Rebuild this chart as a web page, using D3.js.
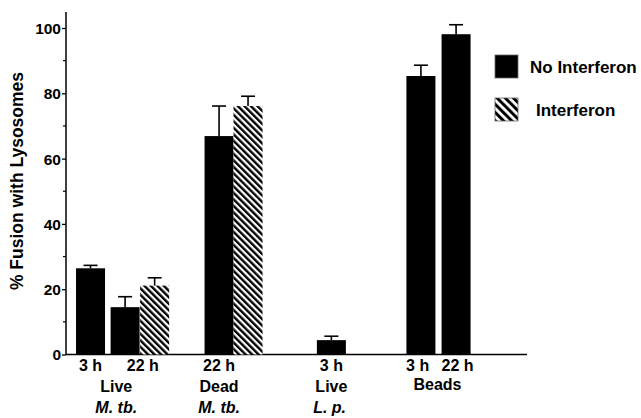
<!DOCTYPE html>
<html>
<head>
<meta charset="utf-8">
<script src="https://cdn.jsdelivr.net/npm/d3@7.9.0/dist/d3.min.js"></script>
<style>
  body { margin: 0; background: #fff; }
  text { font-family: "Liberation Sans", Arial, sans-serif; font-weight: bold; fill: #000; }
</style>
</head>
<body>
<svg id="chart" width="641" height="418"></svg>
<script>
// ---------- DATA ----------
const bars = ["live3", "live22", "live22", "dead22", "dead22", "lp3", "beads3", "beads22"];
const series = ["none", "none", "ifn", "none", "ifn", "none", "none", "none"];
const values = [26.4, 14.5, 21.1, 66.9, 76.1, 4.4, 85.3, 98.1];
const errors = [0.9, 3.2, 2.4, 9.2, 3.0, 1.2, 3.3, 2.9];

const timeLabels = ["3 h", "22 h", "22 h", "3 h", "3 h", "22 h"];
const groupLabels = ["Live", "Dead", "Live", "Beads"];
const organismLabels = ["M. tb.", "M. tb.", "L. p."];
const legendLabels = ["No Interferon", "Interferon"];
const yTicks = [0, 20, 40, 60, 80, 100];

// ---------- LAYOUT (slot units along x) ----------
const barSlot = [0.83, 2.0, 3.0, 5.18, 6.16, 8.98, 12.01, 13.2];
const timeSlot = [0.83, 2.6, 5.18, 8.98, 11.9, 13.25];
const groupSlot = [1.7, 5.18, 8.98, 12.57];
const orgSlot = [1.7, 5.18, 8.92];

const svg = d3.select("#chart");

const x = d3.scaleLinear().domain([0, 15.6]).range([66, 527]);
const y = d3.scaleLinear().domain([0, 100]).range([354.5, 28]);
const barW = 29;

// hatch patterns (bars finer, legend swatch coarser)
const defs = svg.append("defs");
function hatch(id, w) {
  const p = defs.append("pattern")
    .attr("id", id)
    .attr("patternUnits", "userSpaceOnUse")
    .attr("width", w)
    .attr("height", 10)
    .attr("patternTransform", "rotate(-45)");
  p.append("rect").attr("width", w).attr("height", 10).attr("fill", "#fff");
  p.append("rect").attr("width", w * 0.52).attr("height", 10).attr("fill", "#000");
}
hatch("hatch", 4.6);
hatch("hatchLeg", 5.8);

const fill = s => s === "ifn" ? "url(#hatch)" : "#000";

// ---------- AXES ----------
const yAxis = svg.append("g")
  .attr("transform", `translate(${x(0)},0)`)
  .call(d3.axisLeft(y).tickValues(yTicks).tickSize(4).tickPadding(1));
yAxis.select(".domain").remove();
yAxis.selectAll("text")
  .attr("font-size", 15.5)
  .attr("font-family", "Liberation Sans, Arial, sans-serif")
  .attr("font-weight", "bold")
  .attr("dy", "0.35em");
yAxis.selectAll("line").attr("stroke-width", 1.3);

svg.append("g")
  .attr("transform", `translate(${x(0)},0)`)
  .selectAll("line")
  .data(d3.range(10, 100, 20))
  .join("line")
  .attr("x1", -3).attr("x2", 0)
  .attr("y1", d => y(d)).attr("y2", d => y(d))
  .attr("stroke", "#000").attr("stroke-width", 1.2);

svg.append("line")
  .attr("x1", x(0)).attr("x2", x(0))
  .attr("y1", y(0)).attr("y2", 12)
  .attr("stroke", "#000").attr("stroke-width", 1.5);

svg.append("line")
  .attr("x1", x(0)).attr("x2", x(15.6))
  .attr("y1", y(0)).attr("y2", y(0))
  .attr("stroke", "#000").attr("stroke-width", 1.5);

svg.append("text")
  .attr("transform", "translate(23,181) rotate(-90)")
  .attr("text-anchor", "middle")
  .attr("font-size", 17.5)
  .text("% Fusion with Lysosomes");

// ---------- BARS ----------
const idx = d3.range(values.length);

svg.append("g").selectAll("rect")
  .data(idx)
  .join("rect")
  .attr("x", i => x(barSlot[i]) - barW / 2)
  .attr("y", i => y(values[i]))
  .attr("width", barW)
  .attr("height", i => y(0) - y(values[i]))
  .attr("fill", i => fill(series[i]));

// error bars (upper only)
const err = svg.append("g").attr("stroke", "#000").attr("stroke-width", 1.6);
err.selectAll(".stem")
  .data(idx)
  .join("line")
  .attr("class", "stem")
  .attr("x1", i => x(barSlot[i])).attr("x2", i => x(barSlot[i]))
  .attr("y1", i => y(values[i])).attr("y2", i => y(values[i] + errors[i]));
err.selectAll(".cap")
  .data(idx)
  .join("line")
  .attr("class", "cap")
  .attr("x1", i => x(barSlot[i]) - 7).attr("x2", i => x(barSlot[i]) + 7)
  .attr("y1", i => y(values[i] + errors[i])).attr("y2", i => y(values[i] + errors[i]));

// ---------- X LABELS ----------
svg.append("g").selectAll("text")
  .data(timeLabels)
  .join("text")
  .attr("x", (d, i) => x(timeSlot[i]))
  .attr("y", 371)
  .attr("text-anchor", "middle")
  .attr("font-size", 16)
  .text(d => d);

svg.append("g").selectAll("text")
  .data(groupLabels)
  .join("text")
  .attr("x", (d, i) => x(groupSlot[i]))
  .attr("y", (d, i) => i === 3 ? 389.5 : 392)
  .attr("text-anchor", "middle")
  .attr("font-size", 16)
  .text(d => d);

svg.append("g").selectAll("text")
  .data(organismLabels)
  .join("text")
  .attr("x", (d, i) => x(orgSlot[i]))
  .attr("y", 413)
  .attr("text-anchor", "middle")
  .attr("font-size", 16)
  .attr("font-style", "italic")
  .text(d => d);

// ---------- LEGEND ----------
const leg = svg.append("g").selectAll("g")
  .data(legendLabels)
  .join("g")
  .attr("transform", (d, i) => `translate(495,${55 + i * 43})`);
leg.append("rect")
  .attr("width", 23).attr("height", 23)
  .attr("fill", (d, i) => i === 0 ? "#000" : "url(#hatchLeg)")
  .attr("stroke", "#666").attr("stroke-width", 0.8);
leg.append("text")
  .attr("x", (d, i) => i === 0 ? 35 : 41)
  .attr("y", 18)
  .attr("font-size", 17)
  .text(d => d);
</script>
</body>
</html>
